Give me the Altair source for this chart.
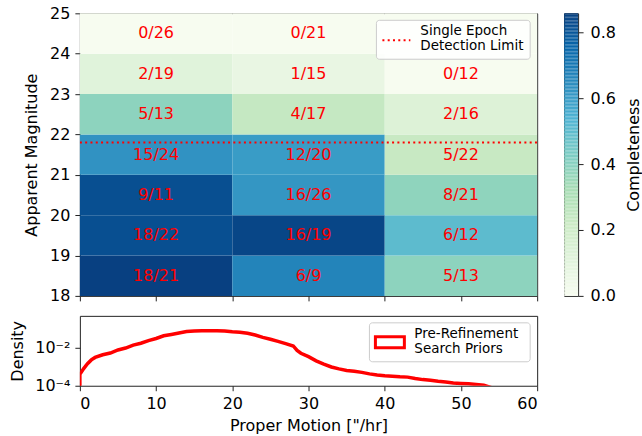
import altair as alt
import pandas as pd

# ---------------- data ----------------
pm_edges = [0, 20, 40, 60]                 # proper motion bin edges ["/hr]
mag_edges = [18, 19, 20, 21, 22, 23, 24, 25]  # apparent magnitude bin edges
# rows: magnitude bins from 18-19 upward; columns: proper-motion bins
detected = [
    [18, 6, 5],
    [18, 16, 6],
    [9, 16, 8],
    [15, 12, 5],
    [5, 4, 2],
    [2, 1, 0],
    [0, 0, None],
]
totals = [
    [21, 9, 13],
    [22, 19, 12],
    [11, 26, 21],
    [24, 20, 22],
    [13, 17, 16],
    [19, 15, 12],
    [26, 21, None],
]
detection_limit = 21.8

# pre-refinement search prior density (histogram outline)
prior_pm = [0.0, 0.0, 0.5, 1.0, 1.5, 2.0, 3.0, 4.0, 5.0, 6.0, 7.0, 8.0, 9.0, 10.0,
            11.0, 12.0, 13.0, 14.0, 15.0, 16.0, 17.0, 18.0, 19.0, 20.0, 21.0, 22.0,
            23.0, 24.0, 25.0, 26.0, 27.0, 28.0, 28.5, 29.0, 30.0, 31.0, 32.0, 33.0,
            34.0, 35.0, 36.0, 37.0, 38.0, 39.0, 40.0, 41.0, 42.0, 43.0, 44.0, 45.0,
            46.0, 47.0, 48.0, 49.0, 50.0, 51.0, 52.0, 53.0, 54.0]
prior_density = [1e-5, 4.0e-4, 7.9e-4, 1.41e-3, 2.24e-3, 3.02e-3, 4.17e-3, 5.13e-3,
                 7.41e-3, 9.33e-3, 1.32e-2, 1.66e-2, 2.29e-2, 2.95e-2, 4.07e-2, 4.79e-2,
                 5.75e-2, 6.76e-2, 7.24e-2, 7.59e-2, 7.59e-2, 7.59e-2, 7.24e-2, 6.61e-2,
                 6.31e-2, 5.50e-2, 4.47e-2, 3.39e-2, 2.69e-2, 2.09e-2, 1.58e-2, 1.20e-2,
                 7.08e-3, 5.01e-3, 3.31e-3, 2.0e-3, 1.35e-3, 9.55e-4, 7.59e-4, 6.31e-4,
                 5.75e-4, 5.01e-4, 4.17e-4, 3.63e-4, 3.31e-4, 3.16e-4, 2.95e-4, 2.82e-4,
                 2.40e-4, 2.09e-4, 1.91e-4, 1.70e-4, 1.55e-4, 1.38e-4, 1.32e-4, 1.26e-4,
                 1.17e-4, 1.07e-4, 8e-5]

# ---------------- tables ----------------
rows = []
for i in range(len(mag_edges) - 1):
    for j in range(len(pm_edges) - 1):
        d, t = detected[i][j], totals[i][j]
        rows.append({
            "x0": pm_edges[j], "x1": pm_edges[j + 1],
            "y0": mag_edges[i], "y1": mag_edges[i + 1],
            "xc": (pm_edges[j] + pm_edges[j + 1]) / 2,
            "yc": (mag_edges[i] + mag_edges[i + 1]) / 2,
            "comp": (d / t) if t else 0.0,
            "label": f"{d}/{t}" if t else "",
        })
cells = pd.DataFrame(rows)
vmax = max(c for c in cells["comp"])

gnbu = ["#f7fcf0", "#e0f3db", "#ccebc5", "#a8ddb5", "#7bccc4",
        "#4eb3d3", "#2b8cbe", "#0868ac", "#084081"]
stops = [vmax * k / (len(gnbu) - 1) for k in range(len(gnbu))]
cscale = alt.Scale(domain=stops, range=gnbu, interpolate="rgb")

FONT = "DejaVu Sans"
W, H_TOP, H_BOT = 458, 283, 70

xscale = alt.Scale(domain=[0, 60], nice=False)
yscale = alt.Scale(domain=[18, 25], nice=False)
xaxis_top = alt.Axis(values=[0, 10, 20, 30, 40, 50, 60], labels=False, title=None, grid=False)
yaxis_top = alt.Axis(values=list(range(18, 26)), title="Apparent Magnitude", grid=False,
                     titlePadding=10)

base = alt.Chart(cells)
rect = base.mark_rect(strokeWidth=0).encode(
    x=alt.X("x0:Q", scale=xscale, axis=xaxis_top),
    x2="x1:Q",
    y=alt.Y("y0:Q", scale=yscale, axis=yaxis_top),
    y2="y1:Q",
    color=alt.Color("comp:Q", scale=cscale, legend=None),
)
text = base.mark_text(color="red", fontSize=16, font=FONT).encode(
    x=alt.X("xc:Q", scale=xscale, axis=xaxis_top),
    y=alt.Y("yc:Q", scale=yscale, axis=yaxis_top),
    text="label:N",
)
rule = alt.Chart(pd.DataFrame({"y": [detection_limit], "a": [0], "b": [60]})).mark_rule(
    color="red", strokeWidth=2, strokeDash=[2, 3.3], clip=True
).encode(
    x=alt.X("a:Q", scale=xscale, axis=xaxis_top), x2="b:Q",
    y=alt.Y("y:Q", scale=yscale, axis=yaxis_top),
)

one = pd.DataFrame({"k": [0]})
leg1_box = alt.Chart(one).mark_rect(fill="white", fillOpacity=0.85, stroke="#cccccc",
                                    strokeWidth=1, cornerRadius=3).encode(
    x=alt.value(297), x2=alt.value(451), y=alt.value(7), y2=alt.value(46))
leg1_line = alt.Chart(one).mark_rule(color="red", strokeWidth=2, strokeDash=[2, 3.3]).encode(
    x=alt.value(303), x2=alt.value(331), y=alt.value(27))
leg1_t1 = alt.Chart(one).mark_text(text="Single Epoch", align="left", baseline="middle",
                                   fontSize=13.5, font=FONT, color="black").encode(
    x=alt.value(341), y=alt.value(18))
leg1_t2 = alt.Chart(one).mark_text(text="Detection Limit", align="left", baseline="middle",
                                   fontSize=13.5, font=FONT, color="black").encode(
    x=alt.value(341), y=alt.value(33))

heat = alt.layer(rect, text, rule, leg1_box, leg1_line, leg1_t1, leg1_t2).properties(
    width=W, height=H_TOP)

# colorbar
nsteps = 200
cb = pd.DataFrame({"v0": [vmax * k / nsteps for k in range(nsteps)],
                   "v1": [vmax * (k + 1) / nsteps for k in range(nsteps)]})
colorbar = alt.Chart(cb).mark_rect(strokeWidth=0).encode(
    x=alt.value(0), x2=alt.value(14),
    y=alt.Y("v0:Q", scale=alt.Scale(domain=[0, vmax], nice=False),
            axis=alt.Axis(orient="right", values=[0, 0.2, 0.4, 0.6, 0.8], format=".1f",
                          title="Completeness", titleAngle=270, titleBaseline="top",
                          labelPadding=7, titlePadding=10, grid=False)),
    y2="v1:Q",
    color=alt.Color("v0:Q", scale=cscale, legend=None),
).properties(width=14, height=H_TOP)

# density panel
dens = pd.DataFrame({"pm": prior_pm, "density": prior_density})
line = alt.Chart(dens).mark_line(interpolate="linear", color="red", strokeWidth=3.5,
                                 clip=True, strokeJoin="miter").encode(
    x=alt.X("pm:Q", scale=xscale,
            axis=alt.Axis(values=[0, 10, 20, 30, 40, 50, 60], title='Proper Motion ["/hr]',
                          grid=False, titlePadding=6)),
    y=alt.Y("density:Q", scale=alt.Scale(type="log", domain=[1e-4, 0.45], nice=False),
            axis=alt.Axis(values=[1e-4, 1e-2], title="Density", grid=False, titlePadding=9,
                          labelExpr="datum.value < 0.001 ? '10⁻⁴' : '10⁻²'")),
    order="pm:Q",
)
leg2_box = alt.Chart(one).mark_rect(fill="white", fillOpacity=0.85, stroke="#cccccc",
                                    strokeWidth=1, cornerRadius=3).encode(
    x=alt.value(290), x2=alt.value(451), y=alt.value(7), y2=alt.value(46))
leg2_patch = alt.Chart(one).mark_rect(fillOpacity=0, stroke="red", strokeWidth=3).encode(
    x=alt.value(296), x2=alt.value(325), y=alt.value(21), y2=alt.value(32))
leg2_t1 = alt.Chart(one).mark_text(text="Pre-Refinement", align="left", baseline="middle",
                                   fontSize=13.5, font=FONT, color="black").encode(
    x=alt.value(335), y=alt.value(18))
leg2_t2 = alt.Chart(one).mark_text(text="Search Priors", align="left", baseline="middle",
                                   fontSize=13.5, font=FONT, color="black").encode(
    x=alt.value(335), y=alt.value(33))
density = alt.layer(line, leg2_box, leg2_patch, leg2_t1, leg2_t2).properties(
    width=W, height=H_BOT)

top = alt.hconcat(heat, colorbar, spacing=25)
chart = alt.vconcat(top, density, spacing=10).properties(
    padding={"left": 9, "top": 4, "right": 0, "bottom": 0}
).configure_view(stroke="#222222", strokeWidth=1).configure_axis(
    labelFont=FONT, titleFont=FONT, labelFontSize=16, titleFontSize=16,
    titleFontWeight="normal", labelColor="black", titleColor="black",
    tickColor="#222222", tickSize=5, tickWidth=1, domain=False, labelPadding=5,
).configure_concat(spacing=10)

chart.save("out.html", embed_options={"renderer": "svg", "actions": False})
